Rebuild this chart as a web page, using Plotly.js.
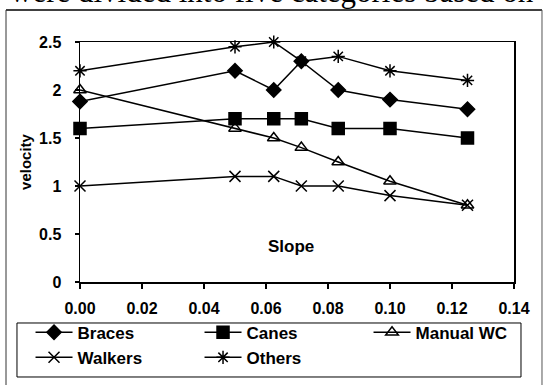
<!DOCTYPE html>
<html>
<head>
<meta charset="utf-8">
<script src="https://cdn.plot.ly/plotly-3.0.1.min.js"></script>
<style>html,body{margin:0;padding:0;background:#fff;}#chart{width:543px;height:385px;}</style>
</head>
<body>
<div id="chart"></div>
<script>
const slope = [0, 0.05, 0.0625, 0.0714, 0.0833, 0.1, 0.125];
const braces = [1.88, 2.2, 2.0, 2.3, 2.0, 1.9, 1.8];
const canes = [1.6, 1.7, 1.7, 1.7, 1.6, 1.6, 1.5];
const manualWC = [2.0, 1.6, 1.5, 1.4, 1.25, 1.05, 0.8];
const walkers = [1.0, 1.1, 1.1, 1.0, 1.0, 0.9, 0.8];
const others = [2.2, 2.45, 2.5, 2.3, 2.35, 2.2, 2.1];
const seriesNames = ["Braces", "Canes", "Manual WC", "Walkers", "Others"];
const xTicks = [0, 0.02, 0.04, 0.06, 0.08, 0.1, 0.12, 0.14];
const yTicks = [0, 0.5, 1, 1.5, 2, 2.5];

const series = [braces, canes, manualWC, walkers, others];
const symbols = ["diamond", "square", "triangle-up-open", "x-thin-open", "asterisk-open"];
const sizes = [11, 12, 11, 11, 11];

const traces = series.map((ys, i) => ({
  x: slope, y: ys, name: seriesNames[i], type: "scatter", mode: "lines+markers",
  line: {color: "#000", width: 1.5},
  marker: {symbol: symbols[i], size: sizes[i], color: "#000", line: {color: "#000", width: 1.5}},
  cliponaxis: false
}));

const layout = {
  width: 543, height: 385,
  margin: {l: 80, r: 29, t: 42, b: 103, autoexpand: false},
  paper_bgcolor: "#fff", plot_bgcolor: "#fff",
  showlegend: true,
  font: {family: "Liberation Sans, Arial, sans-serif", color: "#000"},
  xaxis: {
    range: [0, 0.14], tickvals: xTicks, tickformat: ".2f",
    showgrid: false, zeroline: false, showline: true, linecolor: "#000", linewidth: 1.5, mirror: true,
    ticks: "outside", ticklen: 5, tickcolor: "#000", tickwidth: 1.2,
    ticklabelstandoff: 6,
    tickfont: {size: 16, family: "Liberation Sans, Arial, sans-serif", weight: "bold"}
  },
  yaxis: {
    range: [0, 2.5], tickvals: yTicks,
    showgrid: false, zeroline: false, showline: true, linecolor: "#000", linewidth: 1.5, mirror: true,
    ticks: "outside", ticklen: 4, tickcolor: "#000", tickwidth: 1.2,
    ticklabelstandoff: 10,
    tickfont: {size: 16, family: "Liberation Sans, Arial, sans-serif", weight: "bold"},
    title: {text: "velocity", standoff: 4, font: {size: 15, weight: "bold"}}
  },
  legend: {
    orientation: "h", x: -0.114, y: -0.136, xanchor: "left", yanchor: "top",
    borderwidth: 0, bgcolor: "rgba(0,0,0,0)",
    font: {size: 17, weight: "bold"}, itemwidth: 37, entrywidth: 117, entrywidthmode: "pixels",
    traceorder: "normal", tracegroupgap: 0
  },
  annotations: [
    {x: 0.068, y: 0.37, xref: "x", yref: "y", text: "Slope", showarrow: false,
     font: {size: 17, weight: "bold"}},
    {x: -0.166, y: 1.1292, xref: "paper", yref: "paper", xanchor: "left", yanchor: "bottom",
     text: "were divided into five categories based on the", showarrow: false,
     font: {size: 31, family: "Liberation Serif, Times New Roman, serif"}}
  ],
  shapes: [
    {type: "line", xref: "paper", yref: "paper", x0: -0.1705, x1: 1.0645, y0: 1.1333, y1: 1.1333, line: {color: "#000", width: 1.5}},
    {type: "line", xref: "paper", yref: "paper", x0: -0.1705, x1: -0.1705, y0: 1.1333, y1: -0.5, line: {color: "#333", width: 1}},
    {type: "line", xref: "paper", yref: "paper", x0: 1.0645, x1: 1.0645, y0: 1.1333, y1: -0.5, line: {color: "#555", width: 1}},
    {type: "rect", xref: "paper", yref: "paper", x0: -0.1452, x1: 1.0161, y0: -0.3958, y1: -0.1708, line: {color: "#000", width: 1}}
  ]
};

Plotly.newPlot("chart", traces, layout, {displayModeBar: false, staticPlot: true});
</script>
</body>
</html>
